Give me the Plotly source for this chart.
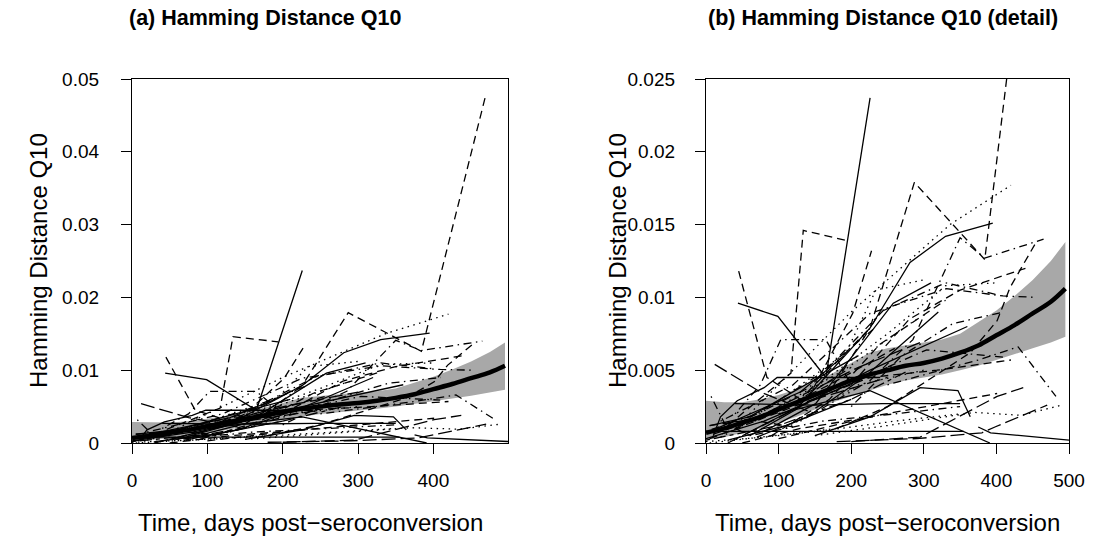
import plotly.graph_objects as go

# ---------------- data ----------------
# individual patient trajectories (days post-seroconversion, Hamming distance Q10, R line type)
patient_days = [
    [44, 99, 165, 226],
    [140, 226, 287, 384, 470],
    [30, 117, 134, 194],
    [45, 84, 130, 200],
    [12, 75, 140],
    [40, 75, 103, 165, 200],
    [10, 20, 43, 80, 98, 240],
    [60, 124, 226, 281, 330, 395],
    [60, 200, 336, 420],
    [130, 226, 285, 350, 384, 465],
    [20, 120, 226, 331, 409, 455],
    [250, 375, 430, 482],
    [150, 250, 370, 434, 490],
    [180, 290, 380, 398, 470],
    [40, 150, 243, 350],
    [7, 200, 355],
    [100, 226, 391],
    [180, 250, 364, 401, 419, 456],
    [50, 226, 360],
    [150, 304, 409],
    [5, 226, 318, 420],
    [100, 226, 401],
    [200, 295, 401, 437],
    [100, 250, 330, 400],
    [80, 151, 258, 310],
    [140, 202, 228],
    [60, 193, 234, 300],
    [30, 142, 248],
    [150, 226, 295, 347, 364],
    [0, 100, 200, 280],
    [5, 90, 180],
    [7, 25, 60],
    [110, 210, 300],
    [60, 160, 260, 350],
    [30, 150, 250],
    [375, 392, 500],
    [15, 70, 130, 190],
    [90, 170, 240, 330],
    [5, 60, 120],
    [200, 270, 340, 410],
    [0, 80, 160, 250],
    [10, 90, 170, 260],
    [20, 100, 190, 290],
    [30, 110, 200],
    [0, 70, 150, 230],
    [40, 120, 210, 300],
    [5, 60, 130, 210],
    [50, 130, 230],
    [0, 80, 170, 260, 350],
    [70, 140, 220, 320],
    [170, 240, 330, 400],
    [200, 280, 350, 440],
]
patient_values = [
    [0.0096, 0.0087, 0.0045, 0.0237],
    [0.0035, 0.0079, 0.0179, 0.0126, 0.0480],
    [0.0012, 0.0048, 0.0146, 0.0139],
    [0.0118, 0.0045, 0.0030, 0.0052],
    [0.0054, 0.0035, 0.0022],
    [0.0020, 0.0040, 0.0071, 0.0071, 0.0040],
    [0.0005, 0.0018, 0.0029, 0.0038, 0.0045, 0.0045],
    [0.0005, 0.0023, 0.0079, 0.0124, 0.0142, 0.0151],
    [0.0020, 0.0090, 0.0150, 0.0177],
    [0.0015, 0.0043, 0.0071, 0.0141, 0.0127, 0.0140],
    [0.0015, 0.0040, 0.0089, 0.0106, 0.0101, 0.0100],
    [0.0040, 0.0057, 0.0066, 0.0032],
    [0.0005, 0.0012, 0.0021, 0.0019, 0.0026],
    [0.0001, 0.0003, 0.0007, 0.0011, 0.0026],
    [0.0027, 0.0026, 0.0027, 0.0027],
    [0.0008, 0.0008, 0.0008],
    [0.0020, 0.0036, 0.0000],
    [0.0010, 0.0025, 0.0062, 0.0084, 0.0107, 0.0139],
    [0.0005, 0.0050, 0.0080],
    [0.0030, 0.0064, 0.0059],
    [0.0003, 0.0045, 0.0050, 0.0057],
    [0.0003, 0.0018, 0.0034],
    [0.0001, 0.0004, 0.0032, 0.0038],
    [0.0020, 0.0075, 0.0108, 0.0110],
    [0.0008, 0.0027, 0.0096, 0.0110],
    [0.0030, 0.0089, 0.0132],
    [0.0015, 0.0062, 0.0105, 0.0112],
    [0.0010, 0.0038, 0.0093],
    [0.0005, 0.0018, 0.0038, 0.0036, 0.0018],
    [0.0002, 0.0012, 0.0030, 0.0050],
    [0.0000, 0.0005, 0.0010],
    [0.0032, 0.0014, 0.0005],
    [0.0010, 0.0040, 0.0050],
    [0.0005, 0.0015, 0.0020, 0.0025],
    [0.0000, 0.0030, 0.0045],
    [0.0011, 0.0007, 0.0002],
    [0.0010, 0.0022, 0.0035, 0.0060],
    [0.0005, 0.0030, 0.0068, 0.0098],
    [0.0012, 0.0016, 0.0011],
    [0.0025, 0.0060, 0.0082, 0.0090],
    [0.0003, 0.0015, 0.0032, 0.0052],
    [0.0006, 0.0020, 0.0040, 0.0065],
    [0.0004, 0.0025, 0.0050, 0.0085],
    [0.0002, 0.0012, 0.0030],
    [0.0008, 0.0020, 0.0045, 0.0078],
    [0.0010, 0.0030, 0.0052, 0.0070],
    [0.0012, 0.0018, 0.0038, 0.0060],
    [0.0000, 0.0010, 0.0018],
    [0.0001, 0.0004, 0.0009, 0.0015, 0.0020],
    [0.0004, 0.0018, 0.0046, 0.0090],
    [0.0035, 0.0090, 0.0110, 0.0102],
    [0.0040, 0.0085, 0.0105, 0.0120],
]
patient_lty = [
    "solid", "dashed", "dashed", "dashed", "longdash", "dotdash", "solid", "solid",
    "dotted", "dotdash", "dotdash", "dotdash", "dotted", "longdash", "solid", "solid",
    "solid", "dashed", "solid", "dotdash", "dashed", "dashed", "longdash", "dotted",
    "solid", "dashed", "dotted", "dotdash", "solid", "twodash", "dotted", "dotdash",
    "dotted", "dotdash", "longdash", "solid", "solid", "dashed", "dashed", "dotdash",
    "solid", "dashed", "dotted", "solid", "dotdash", "longdash", "solid", "dashed",
    "dotted", "solid", "dotdash", "dashed",
]

# population smooth with confidence band
smooth_days = [0, 25, 50, 75, 100, 125, 150, 175, 200, 225, 250,
               275, 300, 325, 350, 375, 400, 425, 450, 475, 495]
smooth_fit = [0.0007, 0.0010, 0.0014, 0.0018, 0.0023, 0.0028, 0.0033, 0.0038, 0.0043, 0.0047, 0.0050,
              0.0053, 0.0055, 0.0058, 0.0062, 0.0067, 0.0074, 0.0081, 0.0089, 0.0097, 0.0106]
smooth_upper = [0.0029, 0.0028, 0.0028, 0.0030, 0.0033, 0.0037, 0.0042, 0.0048, 0.0055, 0.0062, 0.0065,
                0.0067, 0.0069, 0.0071, 0.0075, 0.0083, 0.0091, 0.0101, 0.0112, 0.0125, 0.0138]
smooth_lower = [0.0002, 0.0004, 0.0007, 0.0010, 0.0014, 0.0018, 0.0023, 0.0028, 0.0032, 0.0036, 0.0040,
                0.0043, 0.0045, 0.0047, 0.0050, 0.0053, 0.0057, 0.0061, 0.0065, 0.0069, 0.0073]

# axes
x_ticks_a = [0, 100, 200, 300, 400]
x_ticks_b = [0, 100, 200, 300, 400, 500]
y_ticks_a = [0, 0.01, 0.02, 0.03, 0.04, 0.05]
y_ticktext_a = ["0", "0.01", "0.02", "0.03", "0.04", "0.05"]
y_ticks_b = [0, 0.005, 0.01, 0.015, 0.02, 0.025]
y_ticktext_b = ["0", "0.005", "0.01", "0.015", "0.02", "0.025"]
x_range_a = [0, 499]
x_range_b = [0, 500]
y_range_a = [0, 0.05]
y_range_b = [0, 0.025]

title_a = "(a) Hamming Distance Q10"
title_b = "(b) Hamming Distance Q10 (detail)"
x_title = "Time, days post\u2212seroconversion"
y_title = "Hamming Distance Q10"

# ---------------- figure ----------------
W, H = 1095, 537
FONT = "Liberation Sans, Arial, Helvetica, sans-serif"
dash_map = {
    "solid": "solid",
    "dashed": "8px,5px",
    "dotted": "1.5px,4.5px",
    "dotdash": "1.5px,4.5px,8px,4.5px",
    "longdash": "14px,5px",
    "twodash": "4px,4px,12px,4px",
}

fig = go.Figure()
panels = [("x", "y"), ("x2", "y2")]
for xa, ya in panels:
    fig.add_trace(go.Scatter(
        x=smooth_days + smooth_days[::-1],
        y=smooth_upper + smooth_lower[::-1],
        fill="toself", fillcolor="rgb(168,168,168)",
        line=dict(width=0), mode="lines", hoverinfo="skip",
        showlegend=False, xaxis=xa, yaxis=ya))
    for d, v, lt in zip(patient_days, patient_values, patient_lty):
        fig.add_trace(go.Scatter(
            x=d, y=v, mode="lines",
            line=dict(color="black", width=1.3, dash=dash_map[lt]),
            showlegend=False, xaxis=xa, yaxis=ya))
    fig.add_trace(go.Scatter(
        x=smooth_days, y=smooth_fit, mode="lines",
        line=dict(color="black", width=4.5, shape="spline"),
        showlegend=False, xaxis=xa, yaxis=ya))

dom_a = [132 / W, 508 / W]
dom_b = [706 / W, 1069 / W]
dom_y = [(H - 443) / H, (H - 79) / H]

axis_common = dict(
    showline=True, mirror=True, linecolor="black", linewidth=1.3,
    ticks="outside", ticklen=10, tickwidth=1.3, tickcolor="black",
    showgrid=False, zeroline=False, automargin=False,
    tickfont=dict(family=FONT, size=19, color="black"),
)

fig.update_layout(
    width=W, height=H,
    margin=dict(l=0, r=0, t=0, b=0, autoexpand=False),
    paper_bgcolor="white", plot_bgcolor="white",
    showlegend=False,
    xaxis=dict(domain=dom_a, range=x_range_a, tickvals=x_ticks_a, anchor="y",
               ticklabelstandoff=10, **axis_common),
    yaxis=dict(domain=dom_y, range=y_range_a, tickvals=y_ticks_a, ticktext=y_ticktext_a,
               anchor="x", ticklabelstandoff=18, **axis_common),
    xaxis2=dict(domain=dom_b, range=x_range_b, tickvals=x_ticks_b, anchor="y2",
                ticklabelstandoff=10, **axis_common),
    yaxis2=dict(domain=dom_y, range=y_range_b, tickvals=y_ticks_b, ticktext=y_ticktext_b,
                anchor="x2", ticklabelstandoff=16, **axis_common),
)

ann = []
ann.append(dict(text="<b>" + title_a + "</b>", x=265 / W, y=1 - 18 / H, xref="paper", yref="paper",
                xanchor="center", yanchor="middle", showarrow=False,
                font=dict(family=FONT, size=21.5, color="black")))
ann.append(dict(text="<b>" + title_b + "</b>", x=883 / W, y=1 - 18 / H, xref="paper", yref="paper",
                xanchor="center", yanchor="middle", showarrow=False,
                font=dict(family=FONT, size=21.5, color="black")))
for cx in [310, (706 + 1069) / 2]:
    ann.append(dict(text=x_title, x=cx / W, y=1 - 522 / H, xref="paper", yref="paper",
                    xanchor="center", yanchor="middle", showarrow=False,
                    font=dict(family=FONT, size=24, color="black")))
for cx in [38, 617]:
    ann.append(dict(text=y_title, x=cx / W, y=1 - 261 / H, xref="paper", yref="paper",
                    xanchor="center", yanchor="middle", textangle=-90, showarrow=False,
                    font=dict(family=FONT, size=24, color="black")))
fig.update_layout(annotations=ann)

fig.write_html("out.html",
               config={"displayModeBar": False},
               post_script="document.body.style.margin='0px';document.body.style.padding='0px';")
